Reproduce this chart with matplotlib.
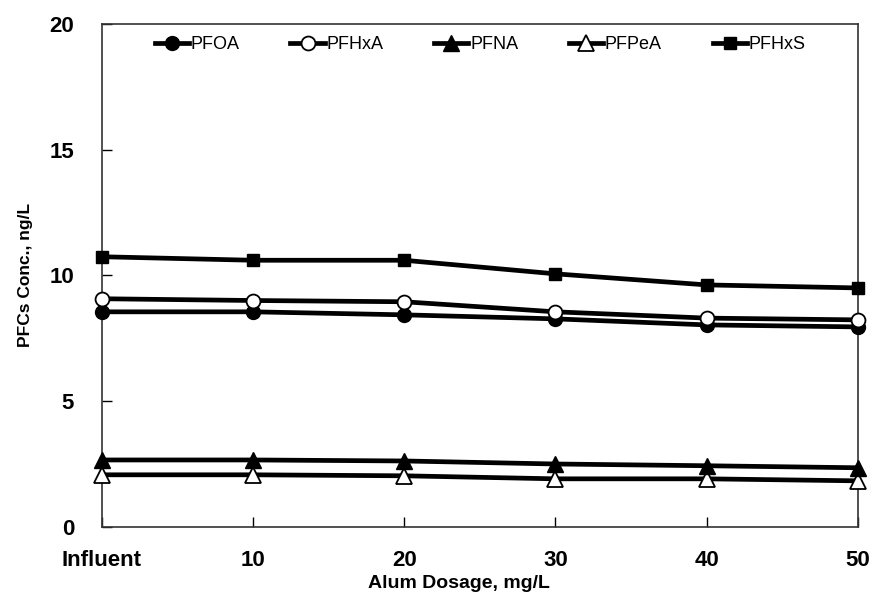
import matplotlib
matplotlib.use("Agg")
import matplotlib.pyplot as plt

plt.rcParams['font.family'] = ['Liberation Sans', 'DejaVu Sans']

# data
dosage = ['Influent', '10', '20', '30', '40', '50']
pfoa = [8.55, 8.55, 8.43, 8.27, 8.03, 7.95]
pfhxa = [9.07, 9.0, 8.95, 8.55, 8.3, 8.23]
pfna = [2.66, 2.66, 2.62, 2.5, 2.43, 2.35]
pfpea = [2.07, 2.07, 2.03, 1.91, 1.91, 1.83]
pfhxs = [10.74, 10.6, 10.6, 10.06, 9.62, 9.5]

fig = plt.figure(figsize=(8.7, 5.96), dpi=100)
ax = fig.add_axes([0.117, 0.116, 0.869, 0.844])

x = list(range(len(dosage)))
lw = 3.4
ax.plot(x, pfoa, color='black', lw=lw, marker='o', ms=10, mfc='black', mec='black', label='PFOA', clip_on=False, zorder=3)
ax.plot(x, pfhxa, color='black', lw=lw, marker='o', ms=10, mfc='white', mec='black', mew=1.3, label='PFHxA', clip_on=False, zorder=4)
ax.plot(x, pfna, color='black', lw=lw, marker='^', ms=11, mfc='black', mec='black', label='PFNA', clip_on=False, zorder=4)
ax.plot(x, pfpea, color='black', lw=lw, marker='^', ms=11, mfc='white', mec='black', mew=1.3, label='PFPeA', clip_on=False, zorder=3)
ax.plot(x, pfhxs, color='black', lw=lw, marker='s', ms=9, mfc='black', mec='black', label='PFHxS', clip_on=False, zorder=3)

ax.set_xlim(0, 5)
ax.set_ylim(0, 20)
ax.set_xticks(x)
ax.set_xticklabels(dosage)
ax.set_yticks([0, 5, 10, 15, 20])
ax.tick_params(direction='in', length=7, width=1, labelsize=16)
ax.tick_params(axis='x', pad=17)
ax.tick_params(axis='y', pad=20)
for lab in ax.get_xticklabels() + ax.get_yticklabels():
    lab.set_fontweight('bold')
for sp in ax.spines.values():
    sp.set_linewidth(1.2)
    sp.set_color('#333333')

ax.set_xlabel('Alum Dosage, mg/L', fontsize=14, fontweight='bold')
ax.xaxis.set_label_coords(0.472, -0.095)
ax.set_ylabel('PFCs Conc., ng/L', fontsize=12.5, fontweight='bold', labelpad=12)

ax.legend(loc='upper left', ncol=5, frameon=False, fontsize=13, handlelength=1.9,
          handletextpad=0.1, columnspacing=2.8, borderpad=0, borderaxespad=0,
          bbox_to_anchor=(0.07, 0.976))

fig.savefig('out.png', dpi=100)
